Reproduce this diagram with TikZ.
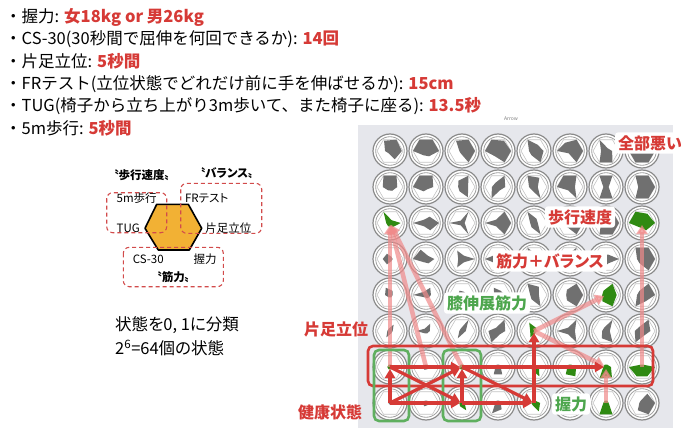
\documentclass[tikz,border=0pt]{standalone}
\usepackage{fontspec}
\setmainfont{Noto Sans CJK JP}[RawFeature=+palt]
\newfontfamily\jpfull{Noto Sans CJK JP}
\usetikzlibrary{arrows.meta}
\definecolor{tred}{HTML}{D63A36}
\definecolor{lred}{HTML}{F08A8A}
\definecolor{tgrn}{HTML}{4DA64D}
\definecolor{shp}{HTML}{707070}
\definecolor{sgrn}{HTML}{2F8A12}
\definecolor{panel}{HTML}{E6E7EC}
\definecolor{hexor}{HTML}{F2B134}
\definecolor{dred}{HTML}{D24B4B}
\definecolor{ringc}{HTML}{8A8A8A}
\definecolor{hexc}{HTML}{C4C4C4}
\newcommand\rtx[1]{\textcolor{tred}{\bfseries #1}}
\newcommand\cellr[9]{%
  \coordinate (#1) at (#2);
  \begin{scope}[shift={(#2)}]
    \fill[white] (0,0) circle (17pt);
    \draw[ringc,line width=1.2pt] (0,0) circle (17pt);
    \draw[ringc!80,line width=0.8pt] (0,0) circle (14.3pt);
    \draw[hexc,line width=0.6pt] (0:13)--(60:13)--(120:13)--(180:13)--(240:13)--(300:13)--cycle;
    \fill[#9] (0:{1.5+11.5*#3})--(60:{1.5+11.5*#4})--(120:{1.5+11.5*#5})--(180:{1.5+11.5*#6})--(240:{1.5+11.5*#7})--(300:{1.5+11.5*#8})--cycle;
  \end{scope}}
\tikzset{
  txt/.style={anchor=west,inner sep=0pt,font=\jpfull\fontsize{16.5}{18}\selectfont},
  small/.style={inner sep=0pt,font=\fontsize{11.5}{13}\selectfont},
  dbox/.style={draw=dred,dashed,dash pattern=on 4pt off 3pt,line width=1.1pt,rounded corners=6pt},
  redarr/.style={draw=tred,line width=3.2pt,-{Triangle[length=9pt,width=10pt]},shorten >=2pt},
  pinkarr/.style={draw=lred,opacity=0.7,line width=4.5pt,-{Triangle[length=9pt,width=11pt]},shorten >=2pt},
  lab/.style={fill=white,rounded corners=3pt,inner sep=3pt,font=\fontsize{16}{18}\selectfont\bfseries},
}
\begin{document}
\begin{tikzpicture}[x=1pt,y=1pt]
\useasboundingbox (0,0) rectangle (681,-428);
\fill[white] (0,0) rectangle (681,-428);
% text lines
\node[txt] (l1) at (5,-17) {・握力: \rtx{女18kg or 男26kg}};
\node[txt] (l2) at (5,-39.3) {・CS-30(30秒間で屈伸を何回できるか): \rtx{14回}};
\node[txt] (l3) at (5,-61.6) {・片足立位: \rtx{5秒間}};
\node[txt] (l4) at (5,-83.9) {・FRテスト(立位状態でどれだけ前に手を伸ばせるか): \rtx{15cm}};
\node[txt] (l5) at (5,-106.2) {・TUG(椅子から立ち上がり3m歩いて、また椅子に座る): \rtx{13.5秒}};
\node[txt] (l6) at (5,-128.5) {・5m歩行: \rtx{5秒間}};
% hexagon diagram
\draw[fill=hexor,line width=1.6pt,line join=round] (156.7,-204.3)--(188.3,-204.3)--(201.7,-228.3)--(189.3,-250)--(158.3,-250)--(145,-228.3)--cycle;
\draw[dbox] (106.7,-192.7) rectangle (166.7,-232.7);
\draw[dbox] (180.7,-183.3) rectangle (261.7,-233.3);
\draw[dbox] (123.3,-247.3) rectangle (223.3,-286.7);
\node[small,font=\fontsize{11.5}{13}\selectfont\bfseries] (hw) at (141.7,-175) {〝歩行速度〟};
\node[small,font=\fontsize{11.5}{13}\selectfont\bfseries] (hb) at (226.7,-173.3) {〝バランス〟};
\node[small,font=\fontsize{11.5}{13}\selectfont\bfseries] (hm) at (173.3,-277) {〝筋力〟};
\node[small] (t5m) at (136.7,-198.3) {5m歩行};
\node[small] (ttug) at (128.3,-228.5) {TUG};
\node[small] (tfr) at (206.7,-198.3) {FRテスト};
\node[small] (tone) at (228.3,-228.5) {片足立位};
\node[small] (tcs) at (148.3,-259.3) {CS-30};
\node[small] (tgr) at (205,-259.3) {握力};
\node[anchor=west,inner sep=0pt,font=\fontsize{16.5}{19}\selectfont] (s1) at (115,-325) {状態を0, 1に分類};
\node[anchor=west,inner sep=0pt,font=\fontsize{16.5}{19}\selectfont] (s2) at (115,-348) {2\textsuperscript{6}=64個の状態};
% panel
\fill[panel] (358,-125) rectangle (673,-428);
\node[font=\fontsize{5}{6}\selectfont,text=gray] (ttl) at (511,-118.5) {Arrow};
% cells row 1
\cellr{c11}{390,-151}{0.9}{1}{0.9}{0.3}{0.1}{0.7}{shp}
\cellr{c12}{426,-151}{1}{1}{1}{1}{0.3}{0.4}{shp}
\cellr{c13}{462,-151}{1}{1}{0.9}{0.1}{0.1}{1}{shp}
\cellr{c14}{498,-151}{1}{0.9}{1}{1}{0.4}{1}{shp}
\cellr{c15}{534,-151}{0.7}{0.5}{1}{0.3}{0.3}{1}{shp}
\cellr{c16}{570,-151}{1}{1}{0.7}{1}{0.1}{1}{shp}
\cellr{c17}{606,-151}{0.4}{0.15}{1}{0.3}{1}{1}{shp}
\cellr{c18}{642,-151}{1}{1}{1}{1}{1}{1}{shp}
% row 2
\cellr{c21}{390,-187}{0.5}{1}{1}{0.5}{0.2}{0.25}{shp}
\cellr{c22}{426,-187}{0.5}{1}{1}{1}{0.3}{0.1}{shp}
\cellr{c23}{462,-187}{0.4}{1}{0.5}{0.2}{0.3}{0.9}{shp}
\cellr{c24}{498,-187}{0.5}{1}{0.3}{0.4}{1}{0.2}{shp}
\cellr{c25}{534,-187}{0.2}{0.8}{1}{0.3}{0.2}{1}{shp}
\cellr{c26}{570,-187}{0.3}{1}{1}{1}{0.2}{1}{shp}
\cellr{c27}{606,-187}{0.1}{1}{1}{0.1}{1}{1}{shp}
\cellr{c28}{642,-187}{1}{1}{1}{0.2}{1}{1}{shp}
% row 3
\cellr{c31}{390,-223}{0.8}{0.15}{1}{0.2}{0.2}{0.3}{sgrn}
\cellr{c32}{426,-223}{1}{0.5}{0.2}{1}{0.2}{0.6}{shp}
\cellr{c33}{462,-223}{0.1}{1}{0.1}{1}{0.1}{1}{shp}
\cellr{c34}{498,-223}{1}{1}{0.2}{1}{0.2}{1}{shp}
\cellr{c35}{534,-223}{0.2}{0.3}{1}{0.2}{0.3}{1}{shp}
\cellr{c36}{570,-223}{1}{0.3}{0.3}{1}{0.3}{1}{shp}
\cellr{c37}{606,-223}{1}{1}{0.3}{0.3}{1}{1}{shp}
\cellr{c38}{642,-223}{1}{0.8}{1}{1}{0.3}{0.6}{sgrn}
% row 4
\cellr{c41}{390,-259}{0.1}{0.1}{0.4}{0.5}{0.4}{0.1}{shp}
\cellr{c42}{426,-259}{0.6}{0.2}{0.8}{1}{0.2}{0.3}{shp}
\cellr{c43}{462,-259}{1}{0.2}{0.7}{0.2}{0.7}{0.2}{shp}
\cellr{c44}{498,-259}{0.3}{0.2}{0.3}{1}{0.3}{0.2}{shp}
\cellr{c45}{534,-259}{0.5}{0.3}{1}{0.3}{0.5}{0.3}{shp}
\cellr{c46}{570,-259}{0.3}{1}{0.3}{0.5}{0.3}{1}{shp}
\cellr{c47}{606,-259}{1}{0.3}{0.3}{0.5}{1}{0.3}{shp}
\cellr{c48}{642,-259}{1}{1}{1}{0.3}{0.3}{1}{shp}
% row 5
\cellr{c51}{390,-295}{0.1}{0.3}{0.6}{0.3}{0.1}{0.1}{shp}
\cellr{c52}{426,-295}{0.3}{0.6}{0.2}{1}{0.1}{0.2}{shp}
\cellr{c53}{462,-295}{0.3}{0.2}{0.3}{0.2}{0.5}{0.4}{shp}
\cellr{c54}{498,-295}{0.5}{0.3}{0.6}{0.2}{0.8}{1}{shp}
\cellr{c55}{534,-295}{0.3}{0.7}{1}{0.2}{0.3}{1}{shp}
\cellr{c56}{570,-295}{1}{1}{0.4}{0.2}{0.4}{1}{shp}
\cellr{c57}{606,-295}{0.8}{1}{0.3}{0.2}{0.5}{1}{sgrn}
\cellr{c58}{642,-295}{1}{1}{0.3}{0.3}{1}{0.5}{shp}
% row 6
\cellr{c61}{390,-331}{0.1}{0.5}{0.1}{0.1}{0.5}{0.1}{shp}
\cellr{c62}{426,-331}{0.2}{0.6}{0.1}{0.7}{0.1}{0.1}{shp}
\cellr{c63}{462,-331}{0.2}{1}{0.1}{0.1}{0.6}{0.1}{shp}
\cellr{c64}{498,-331}{0.5}{1}{0.2}{0.7}{1}{0.2}{shp}
\cellr{c65}{534,-331}{0.1}{0.2}{0.7}{0.2}{0.5}{0.1}{sgrn}
\cellr{c66}{570,-331}{0.3}{1}{0.2}{1}{0.2}{1}{shp}
\cellr{c67}{606,-331}{0.2}{1}{0.2}{0.2}{0.6}{1}{shp}
\cellr{c68}{642,-331}{0.6}{1}{0.3}{0.5}{1}{0.3}{shp}
% row 7
\cellr{c71}{390,-367}{0.1}{0.1}{0.1}{0.1}{0.1}{0.1}{sgrn}
\cellr{c72}{426,-367}{0.1}{0.1}{0.1}{0.1}{0.15}{0.1}{shp}
\cellr{c73}{462,-367}{0.15}{0.1}{0.1}{0.1}{0.1}{0.15}{sgrn}
\cellr{c74}{498,-367}{0.1}{0.1}{0.1}{0.1}{0.6}{0.6}{shp}
\cellr{c75}{534,-367}{0.3}{0.1}{0.1}{0.1}{0.2}{0.8}{sgrn}
\cellr{c76}{570,-367}{0.4}{0.1}{0.1}{0.1}{0.6}{0.8}{sgrn}
\cellr{c77}{606,-367}{0.3}{0.1}{0.1}{0.1}{1}{0.9}{sgrn}
\cellr{c78}{642,-367}{1}{0.1}{0.1}{1}{0.8}{0.8}{sgrn}
% row 8
\cellr{c81}{390,-403}{0}{0}{0}{0}{0}{0}{shp}
\cellr{c82}{426,-403}{0.1}{0.1}{0.1}{0.1}{0.2}{0.1}{shp}
\cellr{c83}{462,-403}{0.1}{0.1}{0.1}{0.1}{0.2}{0.6}{sgrn}
\cellr{c84}{498,-403}{0.1}{0.1}{0.1}{0.1}{0.9}{0.5}{shp}
\cellr{c85}{534,-403}{0.4}{0.1}{0.1}{0.1}{0.1}{0.7}{sgrn}
\cellr{c86}{570,-403}{0.3}{0.1}{0.1}{0.3}{0.3}{0.3}{shp}
\cellr{c87}{606,-403}{0.1}{0.1}{0.1}{0.1}{1}{1}{sgrn}
\cellr{c88}{642,-403}{1}{0.8}{0.1}{0.1}{0.6}{1}{shp}
% pink arrows
\draw[pinkarr] (c71) -- (c31);
\draw[pinkarr] (c72) -- (c31);
\draw[pinkarr] (c73) -- (c31);
\draw[pinkarr] (c65) -- (c57);
\draw[pinkarr] (c65) -- (c77);
\draw[pinkarr] (c78) -- (c38);
\draw[pinkarr] (c87) -- (c77);
% rectangles
\draw[tred,line width=2.6pt,rounded corners=5pt] (368,-346) rectangle (653,-386);
\draw[tgrn!90!white,line width=2.6pt,rounded corners=5pt] (374,-350) rectangle (409,-421);
\draw[tgrn!90!white,line width=2.6pt,rounded corners=5pt] (443,-350) rectangle (481,-421);
% red arrows
\draw[redarr] (c81) -- (c71);
\draw[redarr] (c81) -- (c83);
\draw[redarr] (c83) -- (c85);
\draw[redarr] (c71) -- (c73);
\draw[redarr] (c73) -- (c77);
\draw[redarr] (c71) -- (c83);
\draw[redarr] (c81) -- (c73);
\draw[redarr] (c83) -- (c73);
\draw[redarr] (c73) -- (c85);
\draw[redarr] (c85) -- (c65);
% labels
\node[lab,text=tred] (lall) at (650,-143) {全部悪い};
\node[lab,text=tred] (lwalk) at (580,-217) {歩行速度};
\node[lab,text=tred] (lmb) at (550,-261) {筋力＋バランス};
\node[lab,text=tgrn] (lknee) at (487,-303) {膝伸展筋力};
\node[lab,text=tred,fill=none] (lone) at (336,-329) {片足立位};
\node[lab,text=tred,fill=none] (lhealth) at (330,-412) {健康状態};
\node[lab,text=tgrn] (lgrip) at (571,-404) {握力};
\end{tikzpicture}
\end{document}
